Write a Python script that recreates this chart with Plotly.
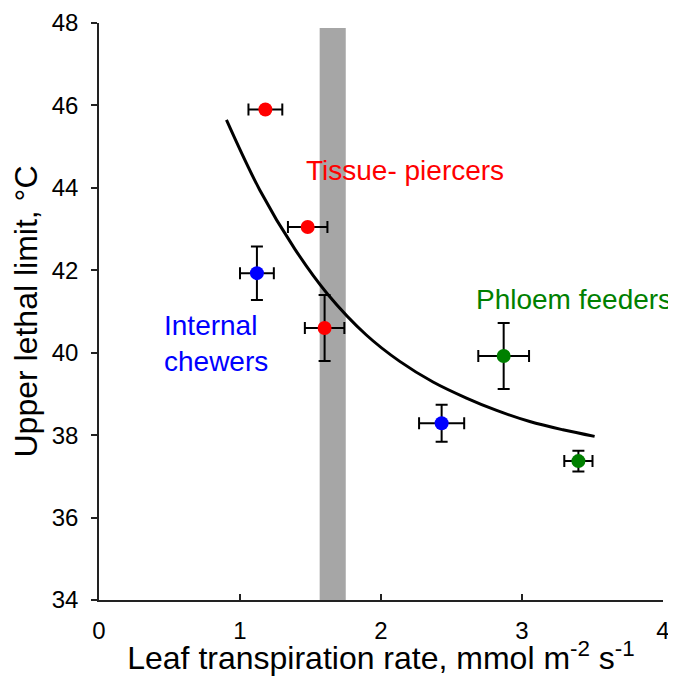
import plotly.graph_objects as go

# Pontos por grupo: taxa de transpiração (x), limite letal (y) e erros
piercers_x = [1.18, 1.48, 1.60]
piercers_y = [45.9, 43.05, 40.6]
piercers_xerr = [0.12, 0.14, 0.14]
piercers_yerr = [0.0, 0.0, 0.8]

chewers_x = [1.12, 2.43]
chewers_y = [41.93, 38.29]
chewers_xerr = [0.12, 0.16]
chewers_yerr = [0.65, 0.45]

phloem_x = [2.87, 3.40]
phloem_y = [39.92, 37.37]
phloem_xerr = [0.18, 0.10]
phloem_yerr = [0.80, 0.25]

# Curva de ajuste
curve_x = [0.904, 1.14, 1.388, 1.622, 1.896, 2.133, 2.369, 2.606, 2.82, 3.055, 3.29, 3.515]
curve_y = [45.65, 43.95, 42.52, 41.42, 40.43, 39.79, 39.29, 38.90, 38.60, 38.33, 38.13, 37.97]

# Faixa cinza
band_x = [1.565, 1.75]

fig = go.Figure()

fig.add_shape(type='rect', xref='x', yref='y', x0=band_x[0], x1=band_x[1],
              y0=34, y1=47.88, fillcolor='#A6A6A6', line=dict(width=0), layer='below')

fig.add_trace(go.Scatter(x=curve_x, y=curve_y, mode='lines',
                         line=dict(color='black', width=3, shape='spline', smoothing=1.0)))

grupos = [
    (piercers_x, piercers_y, piercers_xerr, piercers_yerr, '#FF0000'),
    (chewers_x, chewers_y, chewers_xerr, chewers_yerr, '#0000FF'),
    (phloem_x, phloem_y, phloem_xerr, phloem_yerr, '#008000'),
]
for gx, gy, ex, ey, cor in grupos:
    fig.add_trace(go.Scatter(
        x=gx, y=gy, mode='markers',
        marker=dict(color=cor, size=14),
        error_x=dict(type='data', array=ex, color='black', thickness=2, width=6),
        error_y=dict(type='data', array=ey, color='black', thickness=2, width=6),
    ))

fonte = 'Liberation Sans, Arial, sans-serif'
fig.add_annotation(x=2.17, y=44.43, text='Tissue- piercers', showarrow=False,
                   font=dict(family=fonte, size=28, color='#FF0000'))
fig.add_annotation(x=3.37, y=41.28, text='Phloem feeders', showarrow=False,
                   font=dict(family=fonte, size=28, color='#008000'))
fig.add_annotation(x=0.445, y=40.23, text='Internal<br>chewers', showarrow=False,
                   xanchor='left', align='left',
                   font=dict(family=fonte, size=28, color='#0000FF'))

# A página tem 8px de margem no body; a figura é ajustada para caber na janela
fig.update_layout(
    width=666, height=668,
    margin=dict(l=91, r=11, t=15, b=76, autoexpand=False),
    plot_bgcolor='white', paper_bgcolor='white',
    showlegend=False,
    font=dict(family=fonte, color='black'),
    xaxis=dict(range=[0, 4], dtick=1, showgrid=False, zeroline=False,
               showline=True, linecolor='#222222', linewidth=1.5,
               ticks='inside', ticklen=6, tickcolor='#222222', tickwidth=1.5,
               tickfont=dict(size=24), ticklabelstandoff=8, ticklabeloverflow='allow',
               title=dict(text='Leaf transpiration rate, mmol m<sup>-2</sup> s<sup>-1</sup>',
                          font=dict(size=32), standoff=15)),
    yaxis=dict(range=[34, 48], dtick=2, showgrid=False, zeroline=False,
               showline=True, linecolor='#222222', linewidth=1.5,
               ticks='outside', ticklen=6, tickcolor='#222222', tickwidth=1.5,
               tickfont=dict(size=24), ticklabelstandoff=8,
               title=dict(text='Upper lethal limit, °C', font=dict(size=32), standoff=10)),
)

fig.write_html('out.html')
